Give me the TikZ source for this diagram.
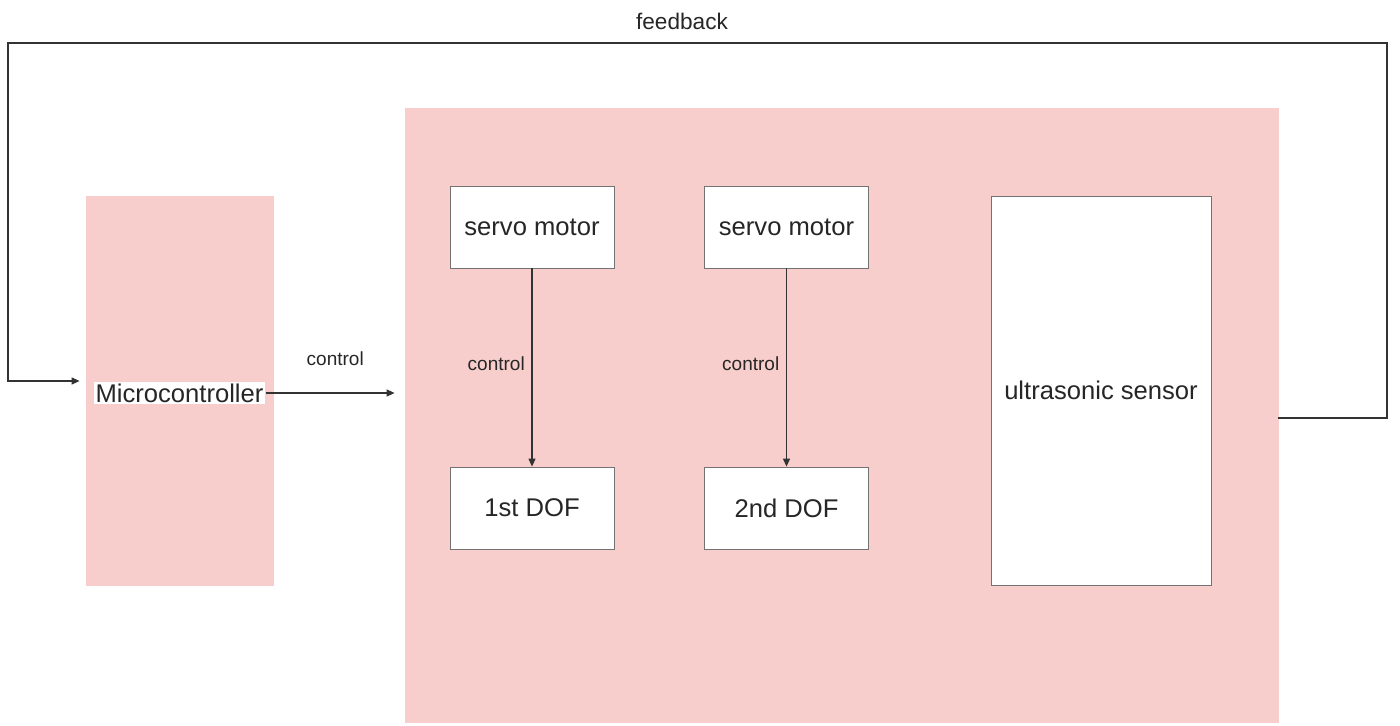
\documentclass[tikz,border=0pt]{standalone}
\usepackage{fontspec}
\setmainfont{Liberation Sans}
\usepackage{tikz}
\usetikzlibrary{arrows.meta}
\definecolor{blockpink}{HTML}{F8CECC}

\begin{document}
\begin{tikzpicture}[x=0.5pt,y=-0.5pt,
blk/.style n args={4}{draw=#1,fill=#2,minimum width=#3,minimum height=#4,rectangle,inner sep=0pt,font=\fontsize{12.8}{15}\selectfont,text=black!85},
lbl/.style={font=\fontsize{9.5}{11}\selectfont,text=black!85},
conn/.style={draw=black!80,line width=0.6pt,-{Triangle[length=4pt,width=3.5pt]}}]
\useasboundingbox (0,0) rectangle (1400,726);
% pink groups
\node[blk={blockpink}{blockpink}{93.5pt}{194.5pt}] (mc) at (179.5,390.5) {};
\node[fill=white,inner sep=1pt,font=\fontsize{12.8}{15}\selectfont,text=black!85] (mclabel) at (179.5,393) {Microcontroller};
\node[blk={blockpink}{blockpink}{436.5pt}{307pt}] (arm) at (841.5,415) {};
% servos and joints
\foreach \n/\x/\d in {1/532/1st,2/786.5/2nd} {
   \node[blk={black!55}{white}{82pt}{41pt}] (servo\n) at (\x,227) {servo motor};
   \node[blk={black!55}{white}{82pt}{41pt}] (dof\n) at (\x,508) {\d\ DOF};
   \draw[conn] (servo\n) -- node[lbl,left,xshift=0pt,yshift=2pt] (ctl\n) {control} (dof\n);
}
\node[blk={black!55}{white}{110pt}{194.5pt}] (sensor) at (1101,390.5) {ultrasonic sensor};
% control and feedback
\draw[conn,shorten >=5pt] (mclabel.east) -- node[lbl,above=10pt] (ctl0) {control} (arm.west |- mclabel.east);
\coordinate (fbright) at (1387,43);
\coordinate (fbleft) at (8,381);
\draw[conn,shorten >=3pt] ([yshift=-1.5pt]arm.east) -| (fbright) -| (fbleft) -- (mc.west |- fbleft);
\node[font=\fontsize{11.3}{13}\selectfont,text=black!85] (fb) at (682,21) {feedback};
\end{tikzpicture}
\end{document}
